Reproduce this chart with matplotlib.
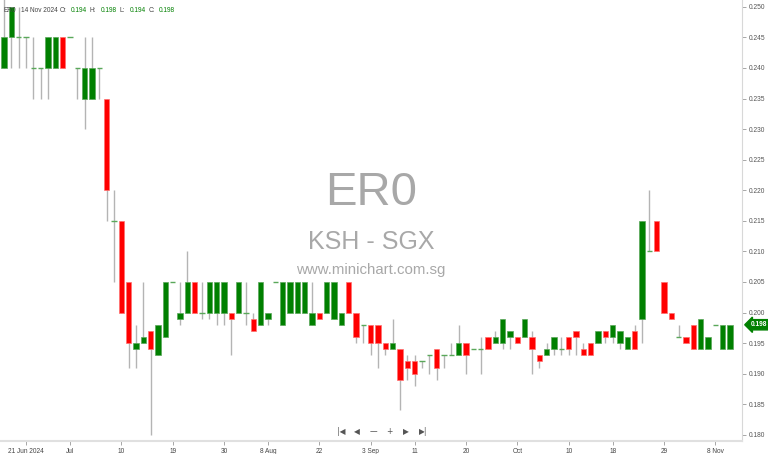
import matplotlib
matplotlib.use("Agg")
import matplotlib.pyplot as plt
import numpy as np

plt.rcParams['font.family'] = ['Liberation Sans', 'DejaVu Sans']

# daily OHLC, 18 Jun 2024 .. 14 Nov 2024 (trading days only)
opens = [0.240, 0.245, 0.245, 0.245, 0.240, 0.240, 0.240, 0.240, 0.245, 0.245,
         0.240, 0.235, 0.235, 0.240, 0.235, 0.215, 0.215, 0.205, 0.194, 0.195,
         0.197, 0.193, 0.196, 0.205, 0.199, 0.200, 0.205, 0.200, 0.200, 0.200,
         0.200, 0.200, 0.200, 0.200, 0.199, 0.198, 0.199, 0.205, 0.198, 0.200,
         0.200, 0.200, 0.198, 0.200, 0.200, 0.199, 0.198, 0.205, 0.200, 0.198,
         0.198, 0.198, 0.195, 0.194, 0.194, 0.192, 0.192, 0.192, 0.193, 0.194,
         0.193, 0.193, 0.193, 0.195, 0.194, 0.194, 0.196, 0.195, 0.195, 0.196,
         0.196, 0.196, 0.196, 0.193, 0.193, 0.194, 0.194, 0.196, 0.197, 0.194,
         0.195, 0.195, 0.197, 0.196, 0.195, 0.194, 0.197, 0.199, 0.210, 0.215,
         0.205, 0.200, 0.196, 0.196, 0.198, 0.194, 0.194, 0.198, 0.194, 0.194]
highs = [0.255, 0.250, 0.250, 0.245, 0.245, 0.240, 0.245, 0.245, 0.245, 0.245,
         0.240, 0.245, 0.245, 0.240, 0.235, 0.220, 0.215, 0.205, 0.198, 0.205,
         0.197, 0.198, 0.205, 0.205, 0.205, 0.210, 0.205, 0.205, 0.205, 0.205,
         0.205, 0.200, 0.205, 0.205, 0.200, 0.205, 0.200, 0.205, 0.205, 0.205,
         0.205, 0.205, 0.205, 0.200, 0.205, 0.205, 0.200, 0.205, 0.200, 0.198,
         0.198, 0.198, 0.195, 0.199, 0.194, 0.193, 0.193, 0.192, 0.193, 0.194,
         0.193, 0.195, 0.198, 0.195, 0.194, 0.196, 0.196, 0.197, 0.199, 0.197,
         0.196, 0.199, 0.197, 0.193, 0.195, 0.196, 0.196, 0.196, 0.197, 0.195,
         0.195, 0.197, 0.197, 0.198, 0.197, 0.196, 0.198, 0.215, 0.220, 0.215,
         0.205, 0.200, 0.198, 0.196, 0.198, 0.199, 0.196, 0.198, 0.198, 0.198]
lows = [0.240, 0.240, 0.240, 0.240, 0.235, 0.235, 0.235, 0.240, 0.240, 0.245,
        0.235, 0.230, 0.235, 0.235, 0.215, 0.205, 0.200, 0.191, 0.191, 0.195,
        0.180, 0.193, 0.196, 0.205, 0.198, 0.200, 0.200, 0.199, 0.199, 0.198,
        0.198, 0.193, 0.200, 0.198, 0.197, 0.198, 0.198, 0.205, 0.198, 0.200,
        0.200, 0.200, 0.198, 0.199, 0.200, 0.199, 0.198, 0.200, 0.195, 0.195,
        0.193, 0.191, 0.193, 0.194, 0.184, 0.189, 0.188, 0.191, 0.190, 0.189,
        0.191, 0.193, 0.193, 0.190, 0.194, 0.190, 0.194, 0.195, 0.194, 0.194,
        0.195, 0.196, 0.190, 0.191, 0.193, 0.193, 0.193, 0.193, 0.193, 0.193,
        0.193, 0.195, 0.195, 0.195, 0.194, 0.194, 0.194, 0.195, 0.210, 0.210,
        0.200, 0.199, 0.196, 0.195, 0.194, 0.194, 0.194, 0.198, 0.194, 0.194]
closes = [0.245, 0.250, 0.245, 0.245, 0.240, 0.240, 0.245, 0.245, 0.240, 0.245,
          0.240, 0.240, 0.240, 0.240, 0.220, 0.215, 0.200, 0.195, 0.195, 0.196,
          0.194, 0.198, 0.205, 0.205, 0.200, 0.205, 0.200, 0.200, 0.205, 0.205,
          0.205, 0.199, 0.205, 0.200, 0.197, 0.205, 0.200, 0.205, 0.205, 0.205,
          0.205, 0.205, 0.200, 0.199, 0.205, 0.205, 0.200, 0.200, 0.196, 0.198,
          0.195, 0.195, 0.194, 0.195, 0.189, 0.191, 0.190, 0.192, 0.193, 0.191,
          0.193, 0.193, 0.195, 0.193, 0.194, 0.194, 0.194, 0.196, 0.199, 0.197,
          0.195, 0.199, 0.194, 0.192, 0.194, 0.196, 0.194, 0.194, 0.196, 0.193,
          0.193, 0.197, 0.196, 0.198, 0.197, 0.196, 0.194, 0.215, 0.210, 0.210,
          0.200, 0.199, 0.196, 0.195, 0.194, 0.199, 0.196, 0.198, 0.198, 0.198]

tick_pos = [3, 9, 16, 23, 30, 36, 43, 50, 56, 63, 70, 77, 83, 90, 97]
tick_labels = ['21 Jun 2024', 'Jul', '10', '19', '30', '8 Aug', '22', '3 Sep',
               '11', '20', 'Oct', '10', '18', '29', '8 Nov']
price_ticks = [0.180, 0.185, 0.190, 0.195, 0.200, 0.205, 0.210, 0.215,
               0.220, 0.225, 0.230, 0.235, 0.240, 0.245, 0.250]

GREEN = '#008000'
RED = '#ff0000'

o = np.array(opens)
h = np.array(highs)
l = np.array(lows)
c = np.array(closes)
x = np.arange(len(o))

W, H = 768, 454
fig = plt.figure(figsize=(W / 100, H / 100), dpi=100)
ax = fig.add_axes([0, 13 / H, 742 / W, 441 / H])

ax.vlines(x, l, h, color='#b4b4b4', linewidth=1.0, zorder=2)

up = c > o
down = c < o
flat = c == o
ax.bar(x[up], (c - o)[up], bottom=o[up], width=0.72, color=GREEN,
       edgecolor='#5aa85a', linewidth=0.5, zorder=3)
ax.bar(x[down], (o - c)[down], bottom=c[down], width=0.72, color=RED,
       edgecolor='#ff7070', linewidth=0.5, zorder=3)
ax.hlines(o[flat], x[flat] - 0.36, x[flat] + 0.36, color='#5aa85a',
          linewidth=1.0, zorder=3)

ax.set_xlim(-0.545, 100.64)
ax.set_ylim(0.17899, 0.25111)

# watermark
ax.text(0.5, 0.562, 'ER0', transform=ax.transAxes, ha='center', va='center',
        fontsize=34, color='#a8a8a8', zorder=1)
ax.text(0.5, 0.452, 'KSH - SGX', transform=ax.transAxes, ha='center', va='center',
        fontsize=18, color='#a8a8a8', zorder=1)
ax.text(0.5, 0.388, 'www.minichart.com.sg', transform=ax.transAxes, ha='center',
        va='center', fontsize=10.8, color='#a8a8a8', zorder=1)

for s in ['top', 'left']:
    ax.spines[s].set_visible(False)
ax.spines['right'].set_color('#d8d8d8')
ax.spines['bottom'].set_color('#e0e0e0')
ax.spines['bottom'].set_linewidth(1.5)

ax.yaxis.tick_right()
ax.set_yticks(price_ticks)
ax.set_yticklabels([f'{p:.3f}' for p in price_ticks])
ax.tick_params(axis='y', length=3, width=0.6, color='#999999', labelsize=4.8,
               labelcolor='#555555', pad=2)
ax.set_xticks(tick_pos)
ax.set_xticklabels(tick_labels)
ax.tick_params(axis='x', length=3, width=0.6, color='#999999', labelsize=4.7,
               labelcolor='#444444', pad=2)

# header
def ftext(px, py, s, col):
    fig.text(px / W, 1 - py / H, s, ha='left', va='center', fontsize=4.7,
             color=col, zorder=1)

ftext(3.5, 10, 'ER0', '#444444')
ftext(21, 10, '14 Nov 2024', '#444444')
ftext(59.5, 10, 'O:', '#444444')
ftext(70.5, 10, f'{opens[-1]:.3f}', GREEN)
ftext(90, 10, 'H:', '#444444')
ftext(100.5, 10, f'{highs[-1]:.3f}', GREEN)
ftext(120, 10, 'L:', '#444444')
ftext(129.5, 10, f'{lows[-1]:.3f}', GREEN)
ftext(148.5, 10, 'C:', '#444444')
ftext(159, 10, f'{closes[-1]:.3f}', GREEN)

# navigation buttons
for px, s in [(341, '|◀'), (357, '◀'), (373, '—'), (389, '+'), (406, '▶'), (423, '▶|')]:
    fig.text(px / W, 1 - 432 / H, s, ha='center', va='center', fontsize=5.5,
             color='#555555', family=['DejaVu Sans'])

# last price tag
ax.annotate(f'{closes[-1]:.3f}', xy=(1.0, closes[-1]),
            xycoords=('axes fraction', 'data'), xytext=(6, 0),
            textcoords='offset points', ha='left', va='center', fontsize=4.7,
            color='white', fontweight='bold',
            bbox=dict(boxstyle='larrow,pad=0.25', fc=GREEN, ec=GREEN),
            annotation_clip=False, zorder=5)

fig.savefig('out.png', dpi=100)
